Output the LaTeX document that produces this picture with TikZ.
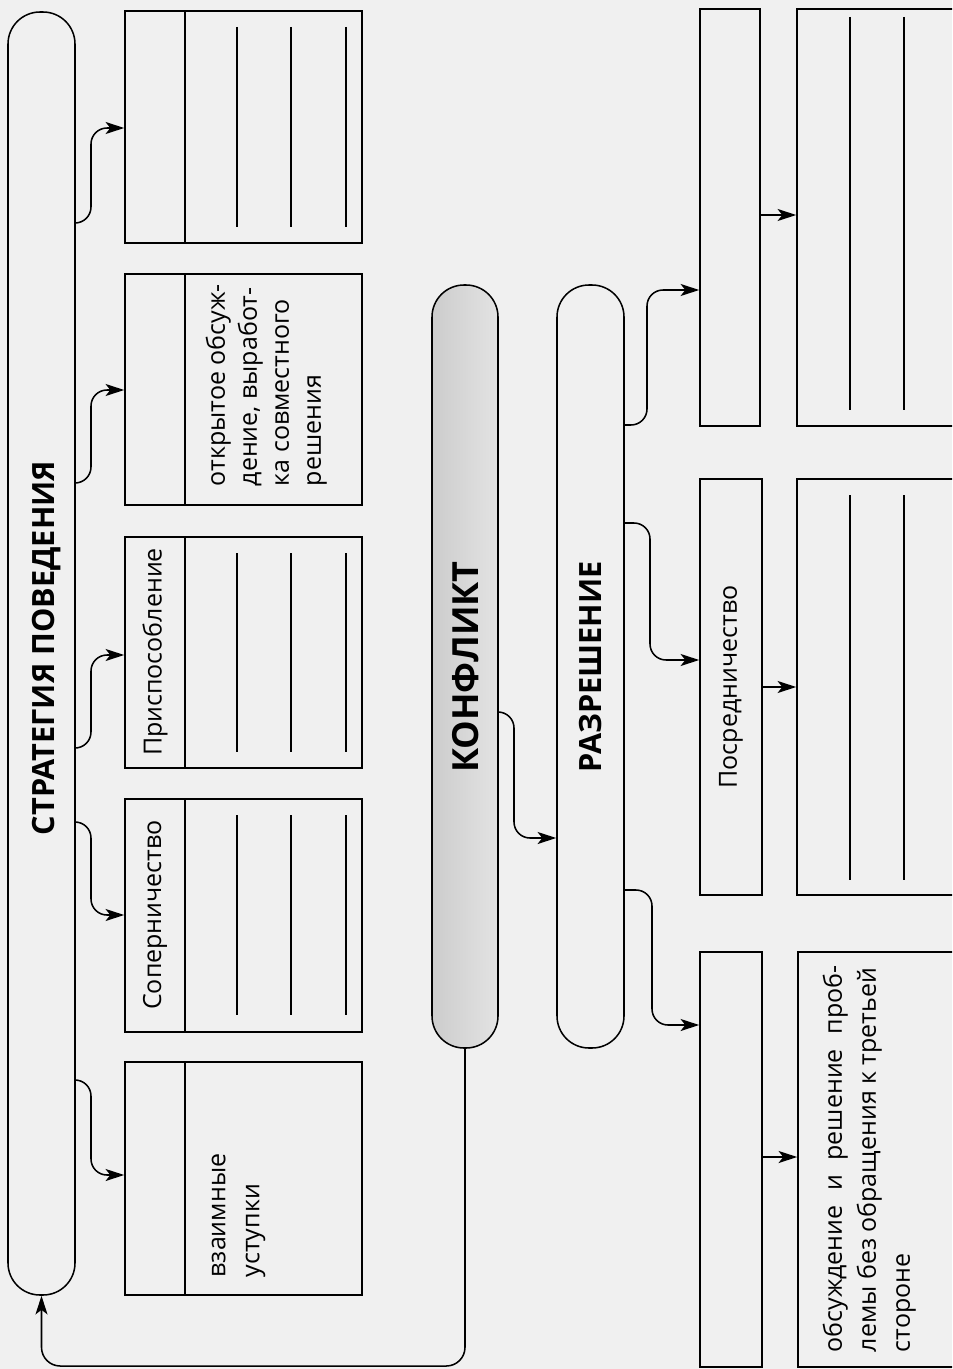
\documentclass[tikz,border=0pt]{standalone}
\usepackage{fontspec}
\setmainfont{Open Sans}
\usetikzlibrary{fit,arrows.meta}
\begin{document}
\begin{tikzpicture}[x=0.75pt,y=-0.75pt, line width=1.15pt,
  box/.style={draw, inner sep=0pt},
  pill/.style={draw, inner sep=0pt, rounded corners=24pt},
  arr/.style={-{Stealth[length=14pt,width=9pt,inset=3.5pt]}, rounded corners=12pt},
  lbl/.style={rotate=90, inner sep=0pt, font=\fontsize{18.75}{25.5}\selectfont},
  ttl/.style={rotate=90, inner sep=0pt, font=\fontsize{23}{28}\selectfont\bfseries},
  rule/.style={line width=1pt}]
\useasboundingbox (0,0) rectangle (952,1369);
\clip (0,0) rectangle (952,1369);
\fill[gray!12] (0,0) rectangle (952,1369);

% left pill
\node[pill, fit={(8,12) (75,1295)}] (S) {};
\node[ttl] (St) at (47,648) {СТРАТЕГИЯ ПОВЕДЕНИЯ};

% strategy boxes
\node[box, fit={(125,11) (362,243)}] (b1) {};
\draw (185,11) -- (185,243);
\foreach \x in {237,291,346} \draw[rule] (\x,27) -- (\x,227);

\node[box, fit={(125,274) (362,505)}] (b2) {};
\draw (185,274) -- (185,505);
\node[lbl, align=left, anchor=north west, font=\fontsize{18.75}{24}\selectfont] (b2t) at (205,487)
  {открытое обсуж-\\дение, выработ-\\ка совместного\\решения};

\node[box, fit={(125,537) (362,768)}] (b3) {};
\draw (185,537) -- (185,768);
\foreach \x in {237,291,346} \draw[rule] (\x,553) -- (\x,752);
\node[lbl] (b3t) at (155,652) {Приспособление};

\node[box, fit={(125,799) (362,1032)}] (b4) {};
\draw (185,799) -- (185,1032);
\foreach \x in {237,291,346} \draw[rule] (\x,815) -- (\x,1015);
\node[lbl] (b4t) at (155,915) {Соперничество};

\node[box, fit={(125,1062) (362,1295)}] (b5) {};
\draw (185,1062) -- (185,1295);
\node[lbl, align=left, anchor=north west] (b5t) at (211,1278) {взаимные\\уступки};

% conflict and resolution
\node[pill, fit={(432,285) (498,1048)}, left color=gray!40, right color=gray!22] (K) {};
\node[ttl, font=\fontsize{27}{30}\selectfont\bfseries] (Kt) at (466,667) {КОНФЛИКТ};
\node[pill, fit={(557,285) (624,1048)}] (R) {};
\node[ttl] (Rt) at (591,667) {РАЗРЕШЕНИЕ};

% right column
\node[box, fit={(700,9) (760,426)}] (t1) {};
\node[box, fit={(797,9) (990,426)}] (t2) {};
\foreach \x in {850,904} \draw[rule] (\x,17) -- (\x,410);

\node[box, fit={(700,479) (762,895)}] (m1) {};
\node[lbl] (m1t) at (731,687) {Посредничество};
\node[box, fit={(797,479) (990,895)}] (m2) {};
\foreach \x in {850,904} \draw[rule] (\x,495) -- (\x,880);

\node[box, fit={(700,952) (762,1367)}] (n1) {};
\node[box, fit={(798,952) (990,1367)}] (n2) {};
\node[lbl, align=left, anchor=north west] (n2t) at (822,1353)
  {\makebox[290pt][s]{обсуждение и решение проб-}\\лемы без обращения к третьей\\стороне};

% connectors strategy
\draw[arr] (S.east |- 0,223) -- (91,223) -- (91,128) -- (b1.west |- 0,128);
\draw[arr] (S.east |- 0,483) -- (91,483) -- (91,390) -- (b2.west |- 0,390);
\draw[arr] (S.east |- 0,748) -- (91,748) -- (91,655) -- (b3.west |- 0,655);
\draw[arr] (S.east |- 0,822) -- (91,822) -- (91,915) -- (b4.west |- 0,915);
\draw[arr] (S.east |- 0,1080) -- (91,1080) -- (91,1175) -- (b5.west |- 0,1175);

% conflict -> resolution
\draw[arr] (K.east |- 0,712) -- (514,712) -- (514,838) -- (R.west |- 0,838);

% resolution -> right column
\draw[arr] (R.east |- 0,425) -- (647,425) -- (647,290) -- (t1.west |- 0,290);
\draw[arr] (R.east |- 0,523) -- (650,523) -- (650,660) -- (m1.west |- 0,660);
\draw[arr] (R.east |- 0,890) -- (652,890) -- (652,1025) -- (n1.west |- 0,1025);

\draw[arr] (t1.east |- 0,215) -- (t2.west |- 0,215);
\draw[arr] (m1.east |- 0,687) -- (m2.west |- 0,687);
\draw[arr] (n1.east |- 0,1157) -- (n2.west |- 0,1157);

% feedback loop
\draw[arr, rounded corners=14pt] (K.south) -- (K.south |- 0,1366) -- (S.south |- 0,1366) -- (S.south);
\end{tikzpicture}
\end{document}
